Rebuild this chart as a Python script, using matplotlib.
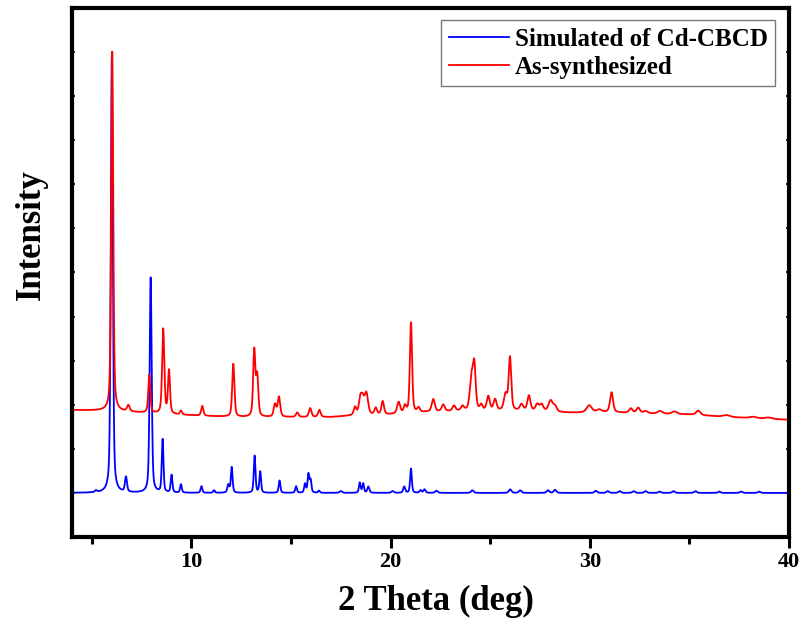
import numpy as np
import matplotlib
matplotlib.use("Agg")
import matplotlib.pyplot as plt
from matplotlib.ticker import MultipleLocator

# ---- peak tables (2-theta position, height, FWHM) ----
sim_pos = [5.2, 6.0, 6.71, 7.95, 8.55, 9.0, 9.47, 10.5, 11.13, 11.85, 12.02,
           13.17, 13.45, 14.42, 15.25, 15.7, 15.87, 15.98, 16.4, 17.5, 18.45,
           18.62, 18.88, 20.1, 20.68, 21.02, 21.5, 21.7, 22.3, 24.1, 26.0,
           26.5, 27.9, 28.25, 30.3, 30.9, 31.5, 32.2, 32.8, 33.5, 34.2, 35.3,
           36.5, 37.6, 38.5]
sim_height = [4, 990, 34, 488, 120, 40, 19, 15, 6, 18, 58,
              84, 48, 28, 15, 20, 42, 28, 5, 4, 23,
              21, 14, 4, 14, 55, 6, 8, 5, 6, 8,
              6, 6, 7, 5, 4, 4, 4, 4, 3, 4, 4,
              3, 3, 3]
sim_width = [0.12, 0.12, 0.12, 0.12, 0.1, 0.1, 0.1, 0.1, 0.1, 0.12, 0.1,
             0.1, 0.1, 0.1, 0.1, 0.1, 0.1, 0.1, 0.1, 0.15, 0.1,
             0.1, 0.12, 0.15, 0.12, 0.1, 0.12, 0.12, 0.15, 0.15, 0.15,
             0.15, 0.15, 0.15, 0.15, 0.15, 0.15, 0.15, 0.15, 0.15, 0.15, 0.15,
             0.15, 0.15, 0.15]

exp_pos = [6.02, 6.83, 7.88, 8.58, 8.87, 9.47, 10.54, 12.1, 13.15, 13.3,
           14.19, 14.39, 15.31, 15.96, 16.42, 18.21, 18.48, 18.6, 18.78,
           19.25, 19.6, 20.4, 20.72, 21.02, 21.4, 22.14, 22.64, 23.18, 23.61,
           24.06, 24.2, 24.55, 24.9, 25.24, 25.77, 25.99, 26.57, 26.94, 27.36,
           27.58, 28.03, 28.25, 29.97, 30.47, 31.09, 32.06, 32.43, 32.8, 33.52,
           34.24, 35.44, 36.87, 38.2, 38.97]
exp_height = [815, 14, 86, 192, 98, 9, 22, 120, 150, 90,
              28, 45, 10, 20, 16, 18, 36, 30, 48,
              15, 30, 26, 16, 205, 10, 28, 15, 12, 10,
              72, 95, 12, 32, 25, 36, 120, 14, 34, 15,
              15, 25, 12, 16, 6, 45, 10, 12, 5, 6,
              6, 10, 4, 3, 3]
exp_width = [0.12, 0.15, 0.12, 0.13, 0.12, 0.12, 0.13, 0.13, 0.13, 0.13,
             0.15, 0.15, 0.15, 0.15, 0.15, 0.15, 0.18, 0.18, 0.2,
             0.15, 0.15, 0.18, 0.15, 0.13, 0.15, 0.18, 0.18, 0.18, 0.18,
             0.2, 0.16, 0.15, 0.18, 0.18, 0.2, 0.15, 0.2, 0.18, 0.2,
             0.2, 0.25, 0.2, 0.3, 0.3, 0.18, 0.2, 0.2, 0.25, 0.3,
             0.3, 0.25, 0.4, 0.4, 0.4]

# background of the measured pattern (offset trace)
exp_bg_x = [4, 6, 9, 11, 12.5, 15, 17, 18, 20, 22, 24, 27, 29, 31, 33, 35, 37, 40]
exp_bg_y = [188, 186, 178, 174, 172, 172, 172, 175, 178, 184, 186, 186, 182,
            183, 180, 178, 172, 166]

labels = ["Simulated of Cd-CBCD", "As-synthesized"]
x_ticks = [10, 20, 30, 40]

ETA = 0.45  # Lorentzian fraction of the pseudo-Voigt profile


def pattern(tt, pos, height, width):
    y = np.zeros_like(tt)
    for p, h, w in zip(pos, height, width):
        d = (tt - p) / (w / 2.0)
        lor = 1.0 / (1.0 + d ** 2)
        gau = np.exp(-np.log(2.0) * d ** 2)
        y += h * (ETA * lor + (1.0 - ETA) * gau)
    return y


tt = np.linspace(4, 40, 7201)
sim = pattern(tt, sim_pos, sim_height, sim_width)
exp = np.interp(tt, exp_bg_x, exp_bg_y) + pattern(tt, exp_pos, exp_height, exp_width)

plt.rcParams["font.family"] = ["Liberation Serif", "DejaVu Serif"]
plt.rcParams["font.weight"] = "bold"

fig = plt.figure(figsize=(8.02, 6.21), dpi=100)
ax = fig.add_axes([72 / 802, 1 - 537 / 621, 717 / 802, 529 / 621])

ax.plot(tt, sim, color="#0000ff", lw=1.3, label=labels[0])
ax.plot(tt, exp, color="#ff0000", lw=1.3, label=labels[1])

ax.set_xlim(4, 40)
ax.set_ylim(-100, 1100)
ax.set_xticks(x_ticks)
ax.xaxis.set_minor_locator(MultipleLocator(5))
ax.yaxis.set_major_locator(MultipleLocator(100))
ax.set_yticklabels([])

for s in ax.spines.values():
    s.set_linewidth(3)

ax.tick_params(axis="x", which="major", direction="out", length=8, width=2.2,
               labelsize=16, pad=3, top=False)
ax.tick_params(axis="x", which="minor", direction="out", length=5, width=2.2,
               top=False)
ax.tick_params(axis="y", which="major", direction="in", length=2.5, width=1.2,
               left=True, right=True, labelleft=False)
for lab in ax.get_xticklabels():
    lab.set_fontweight("bold")

leg = ax.legend(loc="upper right", bbox_to_anchor=(0.981, 0.977),
                borderaxespad=0, frameon=True, fancybox=False,
                handlelength=2.4, handletextpad=0.25, labelspacing=0.2,
                borderpad=0.3, prop={"weight": "bold", "size": 18})
leg.get_frame().set_edgecolor("#555555")
leg.get_frame().set_linewidth(1.0)

fig.text(436 / 802, 1 - 601 / 621, "2 Theta (deg)", ha="center", va="center",
         fontsize=25, fontweight="bold")
fig.text(31 / 802, 1 - 235 / 621, "Intensity", ha="center", va="center",
         rotation=90, fontsize=25, fontweight="bold")

fig.savefig("out.png", dpi=100)
